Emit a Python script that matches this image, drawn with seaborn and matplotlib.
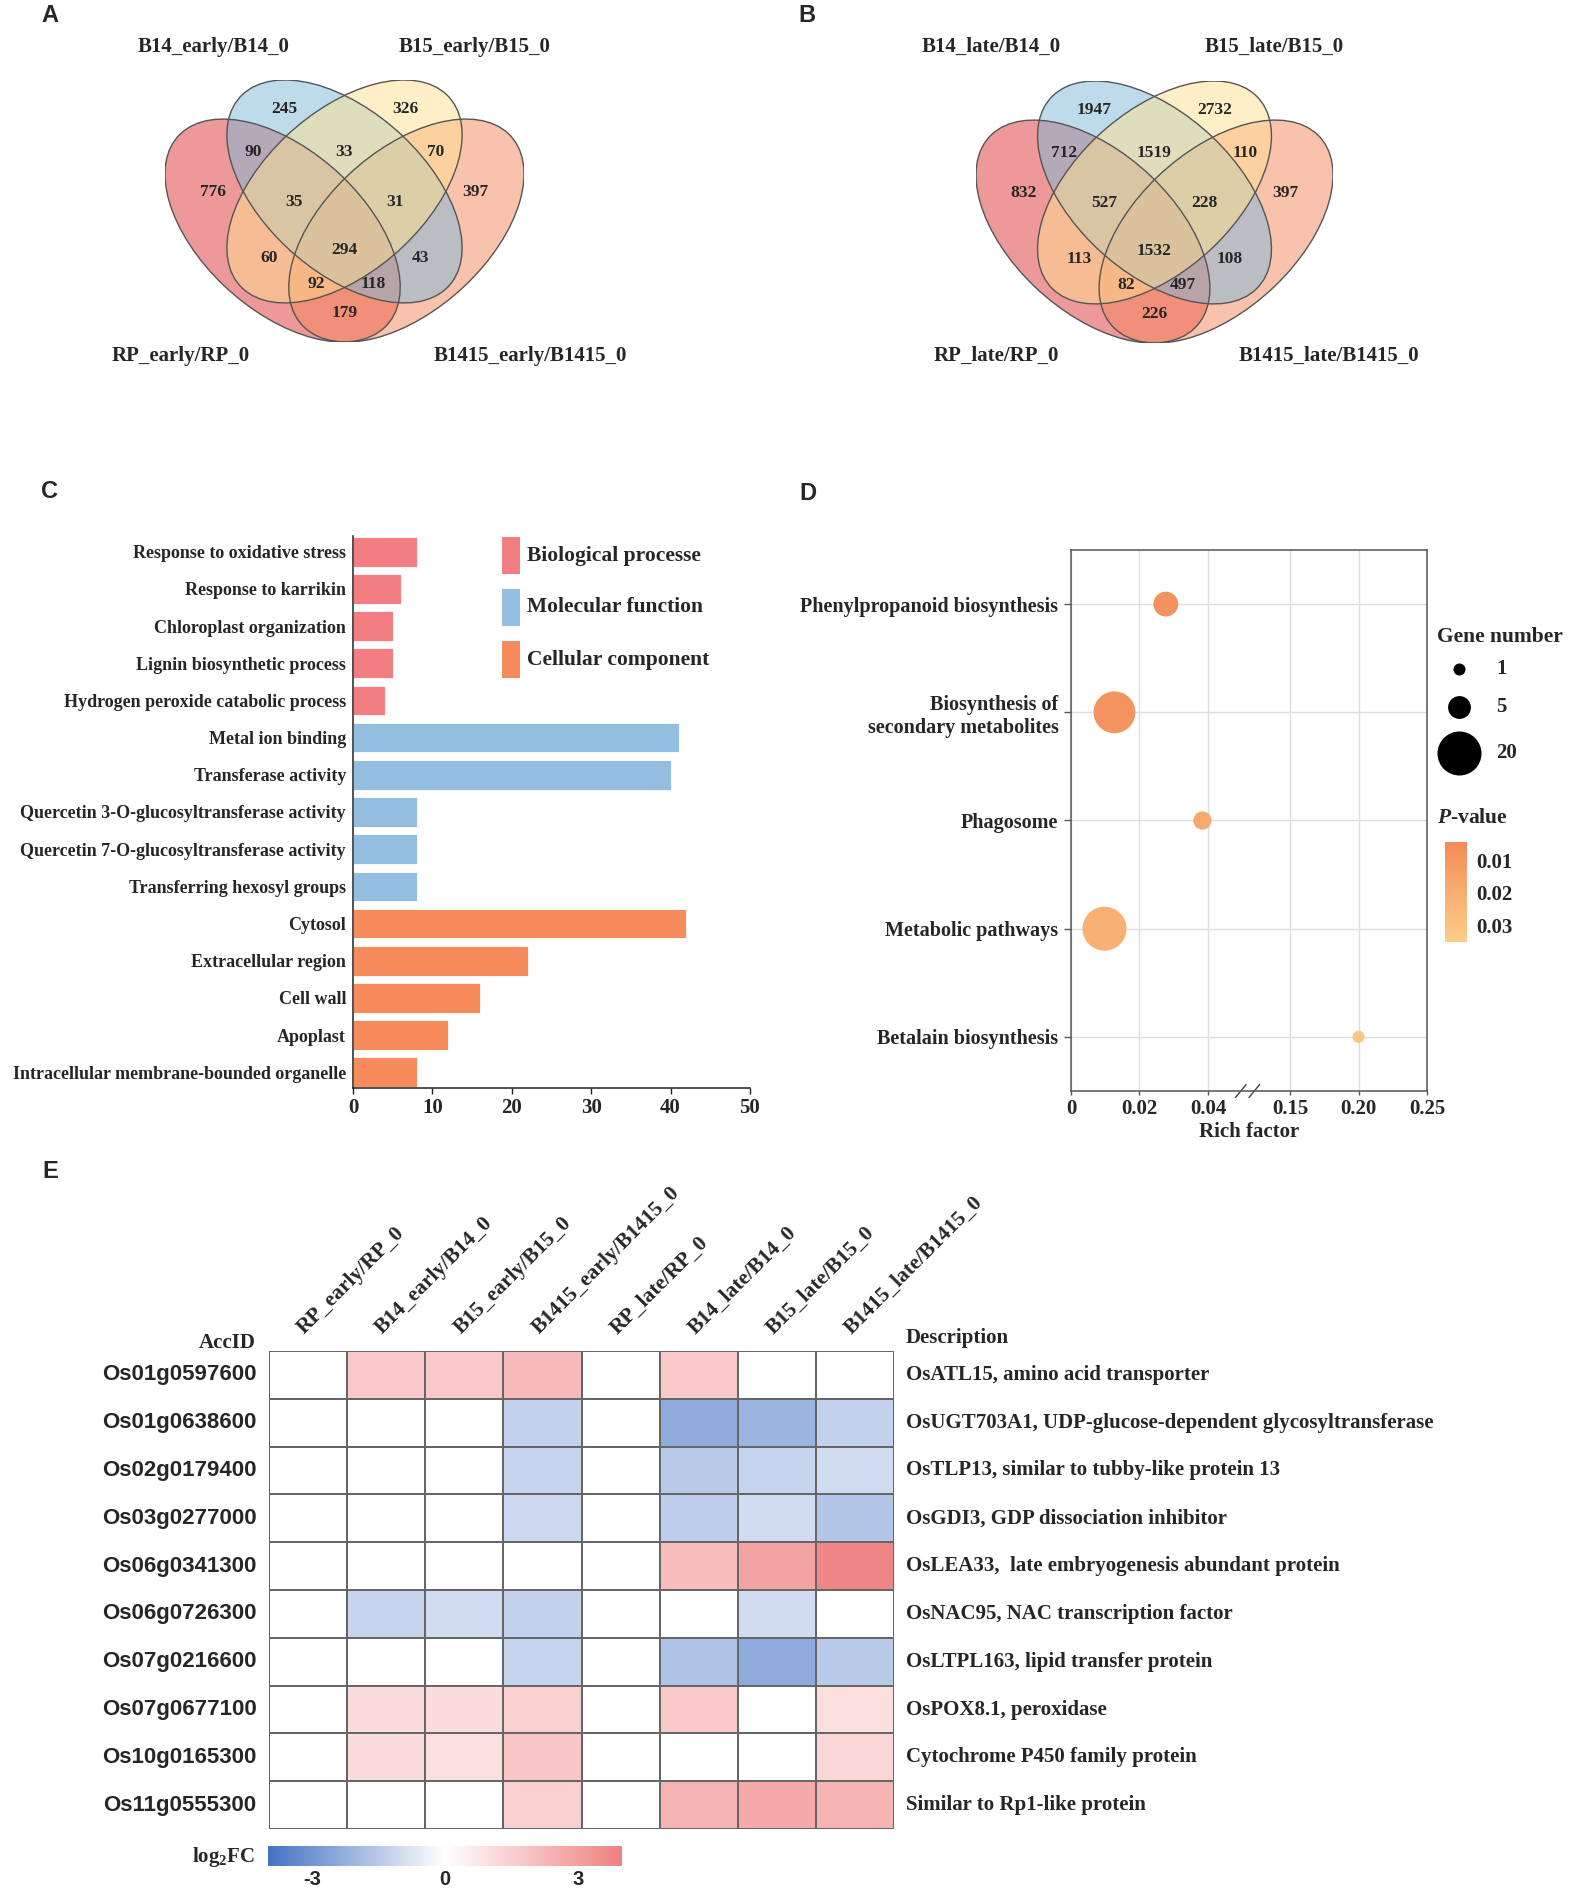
import numpy as np
import pandas as pd
import matplotlib
matplotlib.use("Agg")
import matplotlib.pyplot as plt
import seaborn as sns
from matplotlib.patches import Ellipse, Rectangle
from matplotlib.colors import LinearSegmentedColormap, Normalize
from matplotlib.cm import ScalarMappable

sns.set_theme(style="white")
plt.rcParams["font.family"] = ["Liberation Serif", "DejaVu Serif"]
plt.rcParams["font.weight"] = "bold"
plt.rcParams["mathtext.fontset"] = "custom"
plt.rcParams["mathtext.rm"] = "Liberation Serif:bold"
plt.rcParams["mathtext.it"] = "Liberation Serif:italic:bold"
plt.rcParams["mathtext.bf"] = "Liberation Serif:bold"
SANS = ["Liberation Sans", "DejaVu Sans"]

# ---------------- data ----------------
# Venn region order: RP, B14, B15, B1415, RP&B14, B14&B15, B15&B1415, RP&B14&B15,
# B14&B15&B1415, RP&B15, all, B14&B1415, RP&B15&B1415, RP&B14&B1415, RP&B1415
venn_early_sets = ["RP_early/RP_0", "B14_early/B14_0", "B15_early/B15_0", "B1415_early/B1415_0"]
venn_early_counts = [776, 245, 326, 397, 90, 33, 70, 35, 31, 60, 294, 43, 92, 118, 179]
venn_late_sets = ["RP_late/RP_0", "B14_late/B14_0", "B15_late/B15_0", "B1415_late/B1415_0"]
venn_late_counts = [832, 1947, 2732, 397, 712, 1519, 110, 527, 228, 113, 1532, 108, 82, 497, 226]

go_terms = ["Response to oxidative stress", "Response to karrikin", "Chloroplast organization",
            "Lignin biosynthetic process", "Hydrogen peroxide catabolic process",
            "Metal ion binding", "Transferase activity",
            "Quercetin 3-O-glucosyltransferase activity", "Quercetin 7-O-glucosyltransferase activity",
            "Transferring hexosyl groups", "Cytosol", "Extracellular region", "Cell wall",
            "Apoplast", "Intracellular membrane-bounded organelle"]
go_counts = [8, 6, 5, 5, 4, 41, 40, 8, 8, 8, 42, 22, 16, 12, 8]
go_class = ["Biological processe"] * 5 + ["Molecular function"] * 5 + ["Cellular component"] * 5
go_classes = ["Biological processe", "Molecular function", "Cellular component"]

kegg_terms = ["Phenylpropanoid biosynthesis", "Biosynthesis of\nsecondary metabolites",
              "Phagosome", "Metabolic pathways", "Betalain biosynthesis"]
kegg_rich = [0.0277, 0.0127, 0.0384, 0.0098, 0.200]
kegg_genes = [6, 18, 3, 24, 1]
kegg_p = [0.008, 0.009, 0.018, 0.021, 0.031]
gene_legend = [1, 5, 20]
p_ticks = [0.01, 0.02, 0.03]

hm_cols = ["RP_early/RP_0", "B14_early/B14_0", "B15_early/B15_0", "B1415_early/B1415_0",
           "RP_late/RP_0", "B14_late/B14_0", "B15_late/B15_0", "B1415_late/B1415_0"]
hm_ids = ["Os01g0597600", "Os01g0638600", "Os02g0179400", "Os03g0277000", "Os06g0341300",
          "Os06g0726300", "Os07g0216600", "Os07g0677100", "Os10g0165300", "Os11g0555300"]
hm_desc = ["OsATL15, amino acid transporter",
           "OsUGT703A1, UDP-glucose-dependent glycosyltransferase",
           "OsTLP13, similar to tubby-like protein 13",
           "OsGDI3, GDP dissociation inhibitor",
           "OsLEA33,  late embryogenesis abundant protein",
           "OsNAC95, NAC transcription factor",
           "OsLTPL163, lipid transfer protein",
           "OsPOX8.1, peroxidase",
           "Cytochrome P450 family protein",
           "Similar to Rp1-like protein"]
hm_vals = [
    [0, 1.7, 1.7, 2.2, 0, 1.7, 0, 0],
    [0, 0, 0, -1.3, 0, -2.4, -2.1, -1.3],
    [0, 0, 0, -1.2, 0, -1.5, -1.2, -1.0],
    [0, 0, 0, -1.1, 0, -1.4, -1.0, -1.6],
    [0, 0, 0, 0, 0, 2.1, 2.9, 3.8],
    [0, -1.2, -1.0, -1.3, 0, 0, -1.0, 0],
    [0, 0, 0, -1.2, 0, -1.7, -2.4, -1.5],
    [0, 1.1, 1.1, 1.5, 0, 1.7, 0, 1.0],
    [0, 1.1, 1.0, 1.8, 0, 0, 0, 1.3],
    [0, 0, 0, 1.5, 0, 2.4, 2.7, 2.4],
]
fc_ticks = [-3, 0, 3]

# ---------------- layout helpers ----------------
W, H = 1573, 1888
fig = plt.figure(figsize=(W / 100, H / 100), dpi=100)
fig.patch.set_facecolor("white")


def box(x0, y0, x1, y1):
    return [x0 / W, 1 - y1 / H, (x1 - x0) / W, (y1 - y0) / H]


# ---------------- Venn diagrams ----------------
ELLIPSES = [((0.35, 0.47), -45), ((0.65, 0.47), 45), ((0.50, 0.57), -45), ((0.50, 0.57), 45)]
ELL_COLORS = ["#DC3434", "#F5875A", "#7DB9D7", "#FFE191"]  # RP, B1415, B14, B15 (draw order)
REGION_POS = [(0.182, 0.569), (0.353, 0.782), (0.647, 0.782), (0.818, 0.569),
              (0.2785, 0.671), (0.5, 0.671), (0.7215, 0.671), (0.3775, 0.543),
              (0.6225, 0.543), (0.3165, 0.401), (0.5, 0.42), (0.6835, 0.401),
              (0.4305, 0.333), (0.5695, 0.333), (0.5, 0.258)]


def draw_venn(rect, counts, sets, title_px):
    ax = fig.add_axes(rect)
    ax.set_xlim(0.065, 0.935)
    ax.set_ylim(0.185, 0.855)
    ax.axis("off")
    for ((cx, cy), ang), col in zip(ELLIPSES, ELL_COLORS):
        ax.add_patch(Ellipse((cx, cy), 0.70, 0.40, angle=ang, facecolor=col, alpha=0.5,
                             edgecolor="none"))
    for (cx, cy), ang in ELLIPSES:
        ax.add_patch(Ellipse((cx, cy), 0.70, 0.40, angle=ang, fill=False,
                             edgecolor="#555555", lw=1.0))
    for (x, y), c in zip(REGION_POS, counts):
        ax.text(x, y, str(c), ha="center", va="center", fontsize=12.5, fontweight="bold")
    for name, (px, py) in zip(sets, title_px):
        fig.text(px / W, 1 - py / H, name, ha="center", va="center", fontsize=15,
                 fontweight="bold")


draw_venn(box(165, 80, 524, 342), venn_early_counts, venn_early_sets,
          [(181, 356), (214, 47), (475, 47), (530, 356)])
draw_venn(box(976, 81, 1333, 343), venn_late_counts, venn_late_sets,
          [(996, 356), (991, 47), (1274, 47), (1329, 356)])

# ---------------- Panel C: GO bar chart ----------------
go_pal = {"Biological processe": "#F27E82", "Molecular function": "#93BEDF",
          "Cellular component": "#F68C5B"}
dfc = pd.DataFrame({"term": go_terms, "count": go_counts, "cls": go_class})
axc = fig.add_axes(box(353, 536, 750, 1088))
sns.barplot(data=dfc, x="count", y="term", hue="cls", palette=go_pal, dodge=False,
            legend=False, ax=axc, width=0.8, orient="h", saturation=1, edgecolor="white",
            linewidth=0.6)
axc.set_xlim(0, 50)
axc.set_ylim(14.42, -0.42)
axc.set_xticks([0, 10, 20, 30, 40, 50])
axc.set_xlabel("")
axc.set_ylabel("")
for s in ["top", "right"]:
    axc.spines[s].set_visible(False)
for s in ["left", "bottom"]:
    axc.spines[s].set_color("#222222")
    axc.spines[s].set_linewidth(1.1)
axc.tick_params(axis="y", length=0, pad=5, labelsize=13)
axc.tick_params(axis="x", length=4, width=1, color="#222222", labelsize=15, pad=3,
                bottom=True)
for lab in axc.get_xticklabels() + axc.get_yticklabels():
    lab.set_fontweight("bold")

# ---------------- Panel D: KEGG bubble chart ----------------
def fwd(x):
    x = np.asarray(x, dtype=float)
    mid = 2.43 + (x - 0.0486) * (2.79 - 2.43) / (0.1295 - 0.0486)
    return np.where(x <= 0.0486, x * 50, np.where(x >= 0.1295, 3.2 + (x - 0.15) * 20, mid))


def inv(u):
    u = np.asarray(u, dtype=float)
    mid = 0.0486 + (u - 2.43) * (0.1295 - 0.0486) / (2.79 - 2.43)
    return np.where(u <= 2.43, u / 50, np.where(u >= 2.79, 0.15 + (u - 3.2) / 20, mid))


p_cmap = LinearSegmentedColormap.from_list("pv", ["#F28A58", "#F8AE72", "#FDCD88"])
p_norm = (0.00446, 0.0352)
SIZE_LO, SIZE_HI = 75, 1004

dfd = pd.DataFrame({"term": kegg_terms, "rich": kegg_rich, "genes": kegg_genes, "p": kegg_p})
axd = fig.add_axes(box(1071, 550, 1427, 1091))
sns.scatterplot(data=dfd, x="rich", y="term", hue="p", size="genes", palette=p_cmap,
                hue_norm=p_norm, sizes=(SIZE_LO, SIZE_HI), size_norm=(1, 20), legend=False,
                ax=axd, linewidth=0, zorder=3)
axd.set_xscale("function", functions=(fwd, inv))
axd.set_xlim(0, 0.25)
axd.set_xticks([0, 0.02, 0.04, 0.15, 0.20, 0.25])
axd.set_xticklabels(["0", "0.02", "0.04", "0.15", "0.20", "0.25"])
axd.set_yticks(range(len(kegg_terms)))
axd.set_yticklabels(kegg_terms)
axd.set_ylim(4.5, -0.5)
axd.grid(True, color="#dedede", lw=1)
axd.set_axisbelow(True)
axd.set_ylabel("")
axd.set_xlabel("Rich factor", fontsize=15, fontweight="bold", labelpad=2)
for s in axd.spines.values():
    s.set_color("#555555")
    s.set_linewidth(1.1)
axd.tick_params(axis="y", length=5, width=1, color="#555555", left=True, labelsize=14.5, pad=4)
axd.tick_params(axis="x", length=3, width=1, color="#555555", bottom=True, labelsize=15, pad=3)
for lab in axd.get_xticklabels() + axd.get_yticklabels():
    lab.set_fontweight("bold")
for x0, x1 in [(0.462, 0.492), (0.500, 0.530)]:
    axd.plot([x0, x1], [-0.012, 0.012], transform=axd.transAxes, clip_on=False,
             color="#444444", lw=1)

# P-value colorbar
caxd = fig.add_axes(box(1445, 842, 1467, 942))
cbd = fig.colorbar(ScalarMappable(norm=Normalize(*p_norm), cmap=p_cmap), cax=caxd,
                   ticks=p_ticks)
caxd.invert_yaxis()
cbd.outline.set_visible(False)
caxd.tick_params(length=0, labelsize=15, pad=7)
caxd.set_yticklabels([f"{t:.2f}" for t in p_ticks])
for lab in caxd.get_yticklabels():
    lab.set_fontweight("bold")

# ---------------- Panel E: heatmap ----------------
fc_cmap = LinearSegmentedColormap.from_list("fc", ["#4472C4", "#FFFFFF", "#F08080"])
dfe = pd.DataFrame(hm_vals, index=hm_ids, columns=hm_cols)
axe = fig.add_axes(box(269, 1351, 894, 1829))
caxe = fig.add_axes(box(268, 1846, 622, 1866))
sns.heatmap(dfe, ax=axe, cmap=fc_cmap, vmin=-4, vmax=4, linewidths=1.2,
            linecolor="#666666", cbar_ax=caxe,
            cbar_kws=dict(orientation="horizontal", ticks=fc_ticks),
            xticklabels=True, yticklabels=True)
axe.xaxis.tick_top()
axe.set_xticklabels(hm_cols, rotation=45, ha="left", va="bottom", rotation_mode="anchor",
                    fontsize=15.5, fontweight="bold")
axe.set_yticklabels(hm_ids, rotation=0, fontsize=16, fontweight="bold", family=SANS)
axe.tick_params(axis="x", length=0, pad=9)
axe.tick_params(axis="y", length=0, pad=9)
axe.set_xlabel("")
axe.set_ylabel("")
for i, d in enumerate(hm_desc):
    axe.text(8 + 12 / 78, i + 0.5, d, ha="left", va="center", fontsize=15, fontweight="bold")
cbe = axe.collections[0].colorbar
cbe.outline.set_visible(False)
caxe.tick_params(length=0, labelsize=14.5, pad=3)
caxe.set_xticklabels([str(t) for t in fc_ticks])
for lab in caxe.get_xticklabels():
    lab.set_fontweight("bold")
    lab.set_family(SANS)

# ---------------- overlay: labels and legends ----------------
ov = fig.add_axes([0, 0, 1, 1], facecolor="none")
ov.set_xlim(0, W)
ov.set_ylim(H, 0)
ov.axis("off")

for letter, (px, py) in zip("ABCDE", [(50, 15), (807, 15), (50, 492), (808, 493), (50, 1172)]):
    ov.text(px, py, letter, ha="center", va="center", fontsize=17, fontweight="bold",
            family=SANS)

# GO legend
for k, (cls, ytop) in enumerate(zip(go_classes, [537, 589, 641])):
    ov.add_patch(Rectangle((502, ytop), 18, 37, facecolor=go_pal[cls], edgecolor="none"))
    ov.text(527, ytop + 18.5, cls, ha="left", va="center", fontsize=15.5, fontweight="bold")

# Gene number legend
ov.text(1437, 637, "Gene number", ha="left", va="center", fontsize=15.5, fontweight="bold")
for g, py in zip(gene_legend, [669, 707, 753]):
    s = SIZE_LO + (g - 1) / 19 * (SIZE_HI - SIZE_LO)
    ov.scatter([1459], [py], s=s, color="black", linewidth=0)
    ov.text(1496, py, str(g), ha="left", va="center", fontsize=15, fontweight="bold")
ov.text(1437, 818, r"$\mathit{P}$-value", ha="left", va="center", fontsize=15.5,
        fontweight="bold")

# heatmap headers
ov.text(256, 1343, "AccID", ha="right", va="center", fontsize=15, fontweight="bold")
ov.text(906, 1338, "Description", ha="left", va="center", fontsize=15, fontweight="bold")
ov.text(255, 1857, r"log$_\mathbf{2}$FC", ha="right", va="center", fontsize=15,
        fontweight="bold")

fig.savefig("out.png", dpi=100, facecolor="white")
